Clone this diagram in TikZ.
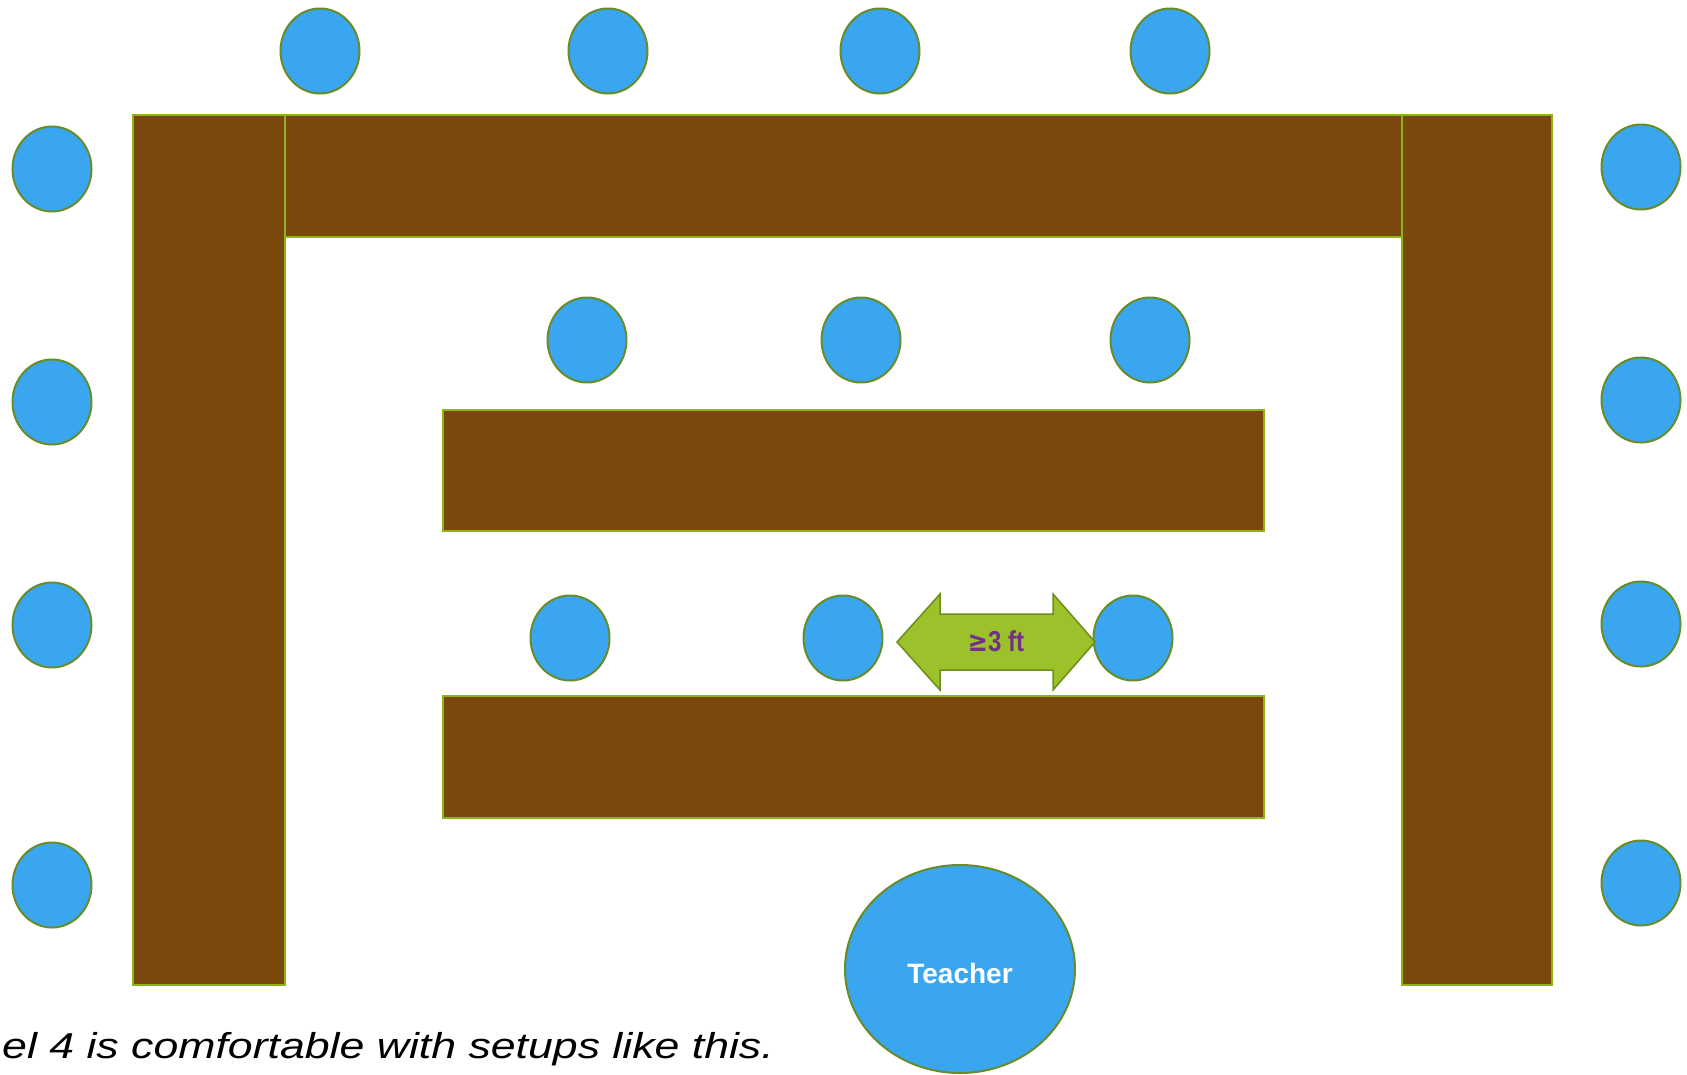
\documentclass[tikz,border=0pt]{standalone}
\usepackage{fontspec}
\setmainfont{Liberation Sans}
\newfontfamily\symfont{DejaVu Sans}
\usetikzlibrary{shapes.geometric}
\definecolor{seatblue}{RGB}{58,166,240}
\definecolor{seatedge}{RGB}{104,140,40}
\definecolor{tablebrown}{RGB}{122,72,13}
\definecolor{tableedge}{RGB}{140,180,20}
\definecolor{arrowgreen}{RGB}{155,193,43}
\definecolor{arrowedge}{RGB}{110,140,26}
\definecolor{labelpurple}{RGB}{112,48,140}
\tikzset{
  seat/.style={ellipse, fill=seatblue, draw=seatedge, line width=2pt,
    minimum width=79pt, minimum height=85pt, inner sep=0pt},
  tablebox/.style={rectangle, fill=tablebrown, draw=tableedge, line width=2pt,
    inner sep=0pt},
  gaparrow/.style={fill=arrowgreen, draw=arrowedge, line width=1.5pt, line join=miter},
}
\begin{document}
\begin{tikzpicture}[x=1pt,y=-1pt]
\useasboundingbox (0,0) rectangle (1687,1074);
% tables
\node[tablebox, minimum width=1419pt, minimum height=122pt] (ttop) at (842.5,176) {};
\node[tablebox, minimum width=152pt, minimum height=870pt] (tleft) at (209,550) {};
\node[tablebox, minimum width=150pt, minimum height=870pt] (tright) at (1477,550) {};
\node[tablebox, minimum width=821pt, minimum height=121pt] (tmid) at (853.5,470.5) {};
\node[tablebox, minimum width=821pt, minimum height=122pt] (tlow) at (853.5,757) {};
% top row seats
\node[seat] (s1) at (320,51) {};
\node[seat] (s2) at (608,51) {};
\node[seat] (s3) at (880,51) {};
\node[seat] (s4) at (1170,51) {};
% left column
\node[seat] (l1) at (52,169) {};
\node[seat] (l2) at (52,402) {};
\node[seat] (l3) at (52,625) {};
\node[seat] (l4) at (52,885) {};
% right column
\node[seat] (r1) at (1641,167) {};
\node[seat] (r2) at (1641,400) {};
\node[seat] (r3) at (1641,624) {};
\node[seat] (r4) at (1641,883) {};
% middle row
\node[seat] (m1) at (587,340) {};
\node[seat] (m2) at (861,340) {};
\node[seat] (m3) at (1150,340) {};
% lower row
\node[seat] (b1) at (570,638) {};
\node[seat] (b2) at (843,638) {};
\node[seat] (b3) at (1133,638) {};
% distance arrow
\draw[gaparrow] (897,642) -- (940,594) -- (940,614) -- (1053,614) -- (1053,594)
  -- (1095,642) -- (1053,690) -- (1053,670) -- (940,670) -- (940,690) -- cycle;
\node[text=labelpurple, inner sep=0pt, yscale=1.2] (gap) at (996,641)
  {\fontsize{24}{24}\selectfont\bfseries{\symfont ≥}3 ft};
% teacher
\node[seat, minimum width=230pt, minimum height=208pt] (teacher) at (960,969) {};
\node[text=white, inner sep=0pt] (tlabel) at (960,973)
  {\fontsize{28}{28}\selectfont\bfseries Teacher};
% caption
\node[anchor=base west, inner sep=0pt, xscale=1.24] (caption) at (2,1058)
  {\fontsize{36}{36}\selectfont\itshape el 4 is comfortable with setups like this.};
\end{tikzpicture}
\end{document}
